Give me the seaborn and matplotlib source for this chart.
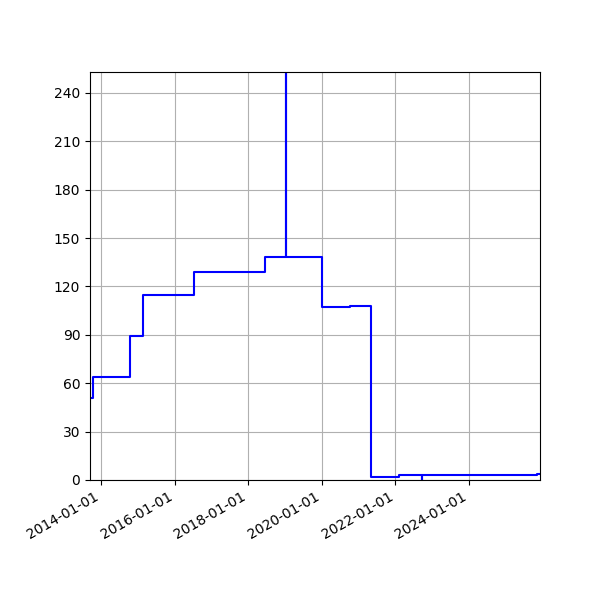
import matplotlib
matplotlib.use("Agg")
import matplotlib.pyplot as plt
import matplotlib.dates as mdates
import seaborn as sns
import pandas as pd
import numpy as np

dates = ["2013-09-14", "2013-10-15", "2014-10-15", "2015-02-24", "2016-07-12",
         "2018-05-28", "2018-06-12", "2019-01-13", "2019-01-14", "2020-01-05",
         "2020-10-06", "2021-05-03", "2022-02-05", "2022-09-20", "2022-09-21",
         "2025-11-08", "2025-12-05"]
values = [51, 64, 89, 115, 129,
          129, 138, 330, 138, 107,
          108, 2, 3, 0, 3,
          4, 4]

df = pd.DataFrame({"date": pd.to_datetime(dates), "value": values})

fig, ax = plt.subplots(figsize=(6, 6), dpi=100)
sns.lineplot(data=df, x="date", y="value", ax=ax, color="blue",
             drawstyle="steps-post", linewidth=1.5, estimator=None)
ax.set_xlim(df["date"].min(), df["date"].max())
ax.set_ylim(0, 253)
ax.set_yticks(np.arange(0, 241, 30))
ax.xaxis.set_major_locator(mdates.YearLocator(2))
ax.xaxis.set_major_formatter(mdates.DateFormatter("%Y-%m-%d"))
ax.grid(True)
ax.set_xlabel("")
ax.set_ylabel("")
fig.autofmt_xdate()
fig.subplots_adjust(left=0.15, right=0.9, top=0.88, bottom=0.2)
fig.savefig("out.png", dpi=100)
